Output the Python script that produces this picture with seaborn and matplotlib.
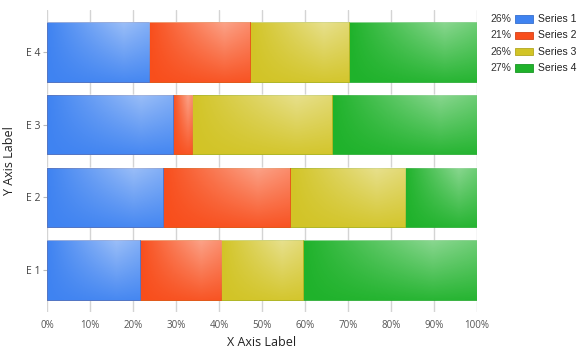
import numpy as np
import pandas as pd
import matplotlib
matplotlib.use("Agg")
import matplotlib.pyplot as plt
import seaborn as sns
from matplotlib.patches import Rectangle
from matplotlib.colors import to_rgb

categories = ["E 4", "E 3", "E 2", "E 1"]
series_names = ["Series 1", "Series 2", "Series 3", "Series 4"]
s1 = [23.8, 29.3, 27.0, 21.6]
s2 = [23.5, 4.5, 29.5, 18.9]
s3 = [23.0, 32.5, 26.8, 19.0]
s4 = [29.7, 33.7, 16.7, 40.5]
legend_pcts = ["26%", "21%", "26%", "27%"]
x_ticks = [0, 10, 20, 30, 40, 50, 60, 70, 80, 90, 100]
x_tick_labels = [f"{t}%" for t in x_ticks]
colors = ["#3f83f1", "#f84e1c", "#d2c426", "#1fb22b"]

sns.set_theme(style="white")
plt.rcParams['font.family'] = ['Open Sans', 'DejaVu Sans']

W, H = 586, 353
fig = plt.figure(figsize=(W / 100, H / 100), dpi=100)
ax = fig.add_axes([47.3 / W, 1 - 312 / H, (476.7 - 47.3) / W, (312 - 10) / H])

series = [s1, s2, s3, s4]
cum = np.cumsum(np.array(series), axis=0)
df = pd.DataFrame({"cat": categories})


def darker(c, f=0.85):
    r, g, b = to_rgb(c)
    return (r * f, g * f, b * f)


# gradient overlay image (white, lighter toward upper right)
GH, GW = 60, 100
u = np.linspace(0, 1, GW)[None, :]
v = np.linspace(0, 1, GH)[:, None]
shape_u = np.clip(u / 0.75, 0, 1) * (1 - 0.25 * np.clip((u - 0.75) / 0.25, 0, 1))
alpha = 0.48 * shape_u * (1 - 0.9 * v)
alpha[0, :] = np.maximum(alpha[0, :], 0.4)
grad = np.zeros((GH, GW, 4))
grad[..., :3] = 1.0
grad[..., 3] = alpha

for k in range(3, -1, -1):
    df["v"] = cum[k]
    before = len(ax.patches)
    sns.barplot(data=df, x="v", y="cat", order=categories, orient="h",
                color=colors[k], width=0.82, saturation=1, ax=ax,
                edgecolor=darker(colors[k], 0.93), linewidth=0.5)
    new = ax.patches[before:]
    z = 2 + 2 * (3 - k)
    for i, p in enumerate(new):
        p.set_zorder(z)
        left = 0 if k == 0 else cum[k - 1][i]
        right = cum[k][i]
        y0 = p.get_y()
        h = p.get_height()
        ax.imshow(grad, extent=(left, right, y0 + h, y0), aspect='auto',
                  zorder=z + 1, interpolation='bilinear')

ax.set_xlim(0, 100)
ax.set_ylim(3.58, -0.58)
ax.set_aspect('auto')
ax.set_xticks(x_ticks)
ax.set_xticklabels(x_tick_labels)
ax.grid(axis='x', color='#d4d4d4', linewidth=1.0, zorder=0)
ax.grid(axis='y', visible=False)
ax.set_axisbelow(True)
for s in ax.spines.values():
    s.set_visible(False)
ax.tick_params(axis='x', length=0, pad=6, labelsize=7, labelcolor='#555555')
ax.tick_params(axis='y', length=3, width=0.8, color='#bbbbbb', pad=2,
               labelsize=7.5, labelcolor='#444444', left=True)
ax.set_xlabel("X Axis Label", fontsize=9, color='#222222', labelpad=3)
ax.set_ylabel("Y Axis Label", fontsize=9, color='#222222', labelpad=7)

# legend
for i, (name, pct, c) in enumerate(zip(series_names, legend_pcts, colors)):
    yc = 1 - (19.3 + 16.2 * i) / H
    fig.text(511 / W, yc, pct, ha='right', va='center', fontsize=7.5,
             color='#333333', family=['Liberation Sans', 'DejaVu Sans'])
    fig.patches.append(Rectangle((515 / W, yc - 3.6 / H), 18 / W, 7.5 / H,
                                 transform=fig.transFigure, facecolor=c,
                                 edgecolor=darker(c), linewidth=0.6))
    fig.text(538 / W, yc, name, ha='left', va='center', fontsize=7.5,
             color='#222222', family=['Liberation Sans', 'DejaVu Sans'])

fig.savefig("out.png", dpi=100)
